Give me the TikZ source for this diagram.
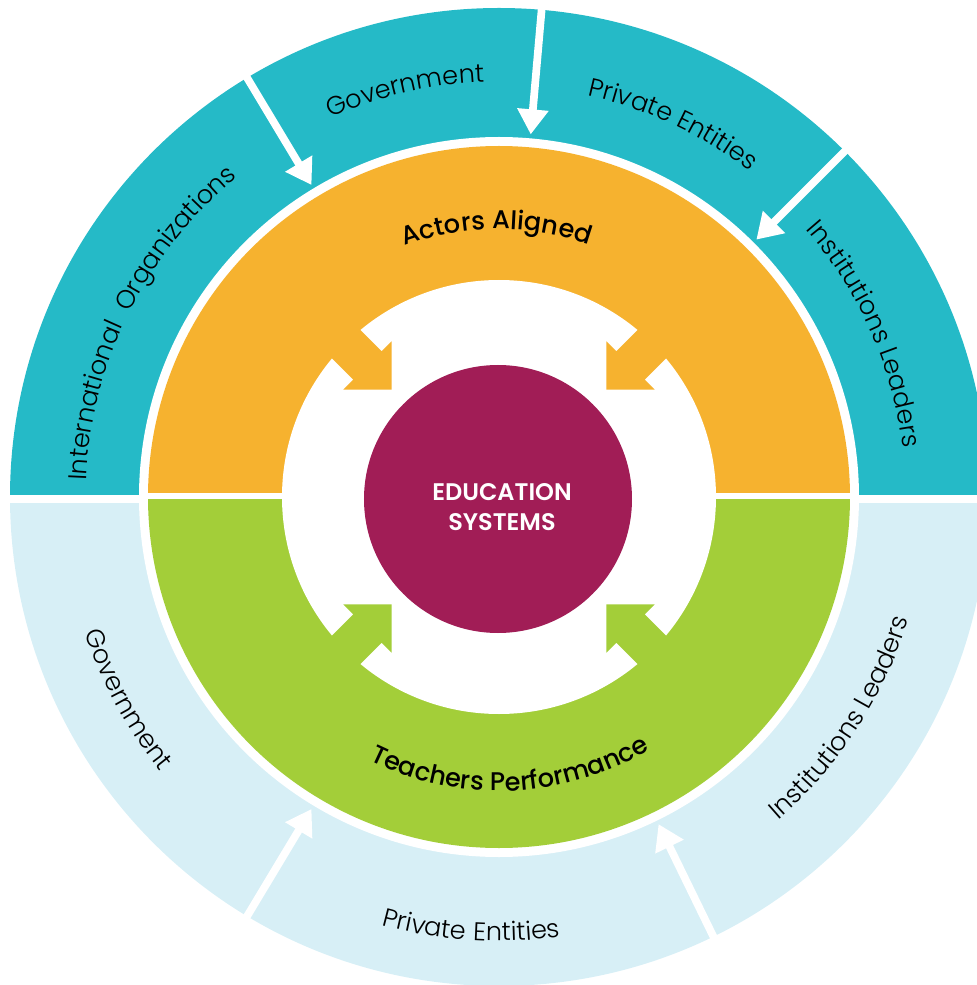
\documentclass[tikz,border=0pt]{standalone}
\usepackage{fontspec}
\setmainfont{Poppins}
\newfontfamily\thinfont{Poppins Light}
\newfontfamily\midfont{Poppins Medium}
\newfontfamily\semifont{Poppins SemiBold}
\usetikzlibrary{arrows.meta,decorations.text}
\definecolor{pteal}{HTML}{25BAC7}
\definecolor{psky}{HTML}{D7EFF6}
\definecolor{porange}{HTML}{F6B22F}
\definecolor{pgreen}{HTML}{A3CE39}
\definecolor{pplum}{HTML}{A11D56}
\newcommand\ringfont{\thinfont\fontsize{12.8pt}{15pt}\selectfont}
\newcommand\bandfont{\midfont\fontsize{12.8pt}{15pt}\selectfont}
\tikzset{
  % white arrow cut through the outer ring
  flow/.style    = {white, line width=3.85pt, -{Triangle[width=15pt,length=12.5pt]}},
  ringtxt/.style = {decorate, decoration={text along path, text align=center, text={#1}}},
  core/.style    = {circle, fill=pplum, minimum size=134pt, inner sep=0pt},
  coretxt/.style = {text=white, align=center, font=\semifont\fontsize{12pt}{15pt}\selectfont},
}
\begin{document}
\begin{tikzpicture}[x=0.5pt,y=0.5pt]
\clip (-499,-488) rectangle (478,497);
% outer ring
\fill[pteal] (0:489) arc[start angle=0,end angle=180,radius=489] -- cycle;
\fill[psky] (180:489) arc[start angle=180,end angle=360,radius=489] -- cycle;
\fill[white] (0,0) circle (360);
% inner ring
\fill[porange] (0:351) arc[start angle=0,end angle=180,radius=351] -- cycle;
\fill[pgreen] (180:351) arc[start angle=180,end angle=360,radius=351] -- cycle;
\fill[white] (0,0) circle (217);
\foreach \ang/\col in {135/porange,45/porange,225/pgreen,315/pgreen}
  \fill[\col, rotate=\ang] (152,0) -- (186,34) -- (186,20) -- (240,20) -- (240,-20) -- (186,-20) -- (186,-34) -- cycle;
% gaps between the halves
\fill[white] (-356,-2) rectangle (-210,4);
\fill[white] (210,-2) rectangle (356,4);
\fill[white] (-495,-6) rectangle (-355,2);
\fill[white] (355,-6) rectangle (495,2);
% centre
\node[core] (core) at (-1,-2) {};
\node[coretxt] (edu) at (3,-10) {EDUCATION\\SYSTEMS};
% arrows from the outer segments
\foreach \ang [count=\i] in {121,85,45,239,296} {
  \coordinate (src\i) at (\ang:495);
  \coordinate (dst\i) at (\ang:364);
  \draw[flow] (src\i) -- (dst\i);
}
% labels, top half
\path[ringtxt={|\ringfont|International{ } Organizations}] (193.5:413) arc[start angle=193.5,end angle=113.5,radius=413];
\path[ringtxt={|\ringfont|Government}] (143:415) arc[start angle=143,end angle=63,radius=415];
\path[ringtxt={|\ringfont|Private Entities}] (105:411) arc[start angle=105,end angle=25,radius=411];
\path[ringtxt={|\ringfont|Institutions Leaders}] (64:407) arc[start angle=64,end angle=-16,radius=407];
\path[ringtxt={|\bandfont|Actors Aligned}] (130.5:268) arc[start angle=130.5,end angle=50.5,radius=268];
% labels, bottom half
\path[ringtxt={|\ringfont|Government}] (168.6:436) arc[start angle=168.6,end angle=248.6,radius=436];
\path[ringtxt={|\ringfont|Private Entities}] (226.3:444) arc[start angle=226.3,end angle=306.3,radius=444];
\path[ringtxt={|\ringfont|Institutions Leaders}] (-72.9:427) arc[start angle=-72.9,end angle=7.1,radius=427];
\path[ringtxt={|\bandfont|Teachers Performance}] (232.3:294) arc[start angle=232.3,end angle=312.3,radius=294];
\end{tikzpicture}
\end{document}
